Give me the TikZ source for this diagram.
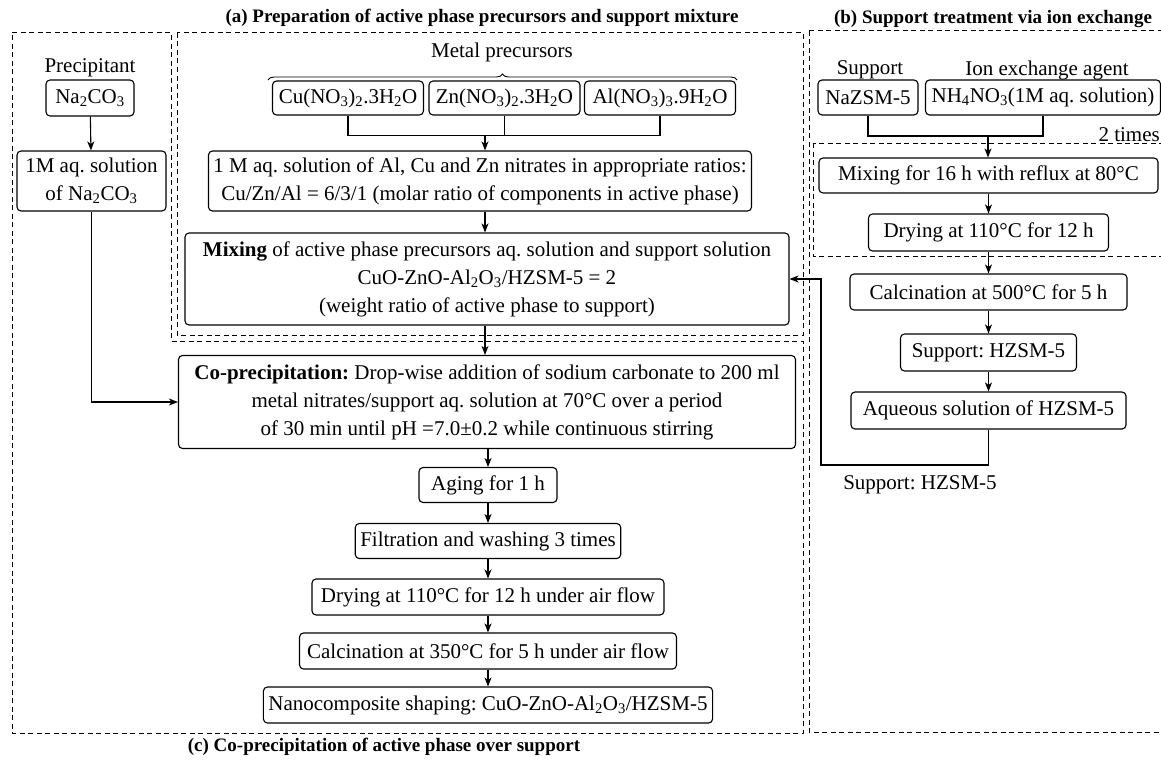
\documentclass[tikz,border=0pt]{standalone}
\usepackage{fontspec}
\setmainfont{Liberation Serif}
\usetikzlibrary{arrows.meta,decorations.pathreplacing}
\newcommand{\chsub}[1]{\textsubscript{#1}}
\frenchspacing
\begin{document}
\begin{tikzpicture}[x=1pt,y=-1pt,
  box/.style={draw, rounded corners=4pt, line width=1.1pt, inner xsep=5pt, inner ysep=2pt, align=center, font=\fontsize{21}{28}\selectfont\frenchspacing},
  lbl/.style={inner sep=0pt, font=\fontsize{21}{28}\selectfont\frenchspacing},
  ttl/.style={inner sep=0pt, font=\fontsize{19}{23}\selectfont\bfseries},
  arr/.style={-{Stealth[length=9pt,width=7pt,inset=2.5pt]}, line width=1.1pt},
  ln/.style={line width=1.1pt},
  frame/.style={dash pattern=on 5pt off 3.5pt, line width=1pt}]
\fill[white] (0,0) rectangle (1161,760);
\clip (0,0) rectangle (1161,760);

% frames
\draw[frame] (12,33) -- (171,33) -- (171,341) -- (803,341) -- (803,733) -- (12,733) -- cycle;
\draw[frame] (177,33) rectangle (803,335);
\draw[frame] (809,31) rectangle (1190,732);
\draw[frame] (813,143) rectangle (1190,256);

% titles
\node[ttl] (ta) at (482,18) {(a) Preparation of active phase precursors and support mixture};
\node[ttl] (tb) at (993,19) {(b) Support treatment via ion exchange};
\node[ttl] (tc) at (384,747) {(c) Co-precipitation of active phase over support};

% left column
\node[lbl] (prec) at (90,68) {Precipitant};
\node[box, minimum width=88pt, minimum height=36pt] (na) at (90,98) {Na\chsub{2}CO\chsub{3}};
\node[box, minimum width=149pt, minimum height=60pt] (solna) at (91.5,181) {1M aq. solution\\of Na\chsub{2}CO\chsub{3}};

% (a)
\node[lbl] (metal) at (502,52) {Metal precursors};
\node[box, minimum width=151pt, minimum height=34pt] (cu) at (348,98) {Cu(NO\chsub{3})\chsub{2}.3H\chsub{2}O};
\node[box, minimum width=151pt, minimum height=34pt] (zn) at (504.5,98) {Zn(NO\chsub{3})\chsub{2}.3H\chsub{2}O};
\node[box, minimum width=151pt, minimum height=34pt] (al) at (660,98) {Al(NO\chsub{3})\chsub{3}.9H\chsub{2}O};
\draw[line width=0.9pt, decorate, decoration={brace, amplitude=6pt}] (268,80) -- (737,80);
\coordinate (ja) at (485,135.5);
\node[box, minimum width=542pt, minimum height=60pt] (sol) at (480,181) {1 M aq. solution of Al, Cu and Zn nitrates in appropriate ratios:\\Cu/Zn/Al = 6/3/1 (molar ratio of components in active phase)};
\node[box, minimum width=604pt, minimum height=92pt] (mix) at (487,279) {\textbf{Mixing} of active phase precursors aq. solution and support solution\\CuO-ZnO-Al\chsub{2}O\chsub{3}/HZSM-5 = 2\\(weight ratio of active phase to support)};

% (c)
\coordinate (col) at (488,0);
\node[box, minimum width=617pt, minimum height=93pt] (cop) at (487,402) {\textbf{Co-precipitation:} Drop-wise addition of sodium carbonate to 200 ml\\metal nitrates/support aq. solution at 70°C over a period\\of 30 min until pH =7.0±0.2 while continuous stirring};
\node[box, minimum width=138pt, minimum height=35pt] (age) at (488,485) {Aging for 1 h};
\node[box, minimum width=264pt, minimum height=35pt] (fil) at (488,541) {Filtration and washing 3 times};
\node[box, minimum width=352pt, minimum height=36pt] (dry) at (488,597) {Drying at 110°C for 12 h under air flow};
\node[box, minimum width=377pt, minimum height=36pt] (cal) at (488,651) {Calcination at 350°C for 5 h under air flow};
\node[box, minimum width=441pt, minimum height=36pt] (nano) at (488,705) {Nanocomposite shaping: CuO-ZnO-Al\chsub{2}O\chsub{3}/HZSM-5};

% (b)
\node[lbl] (suplbl) at (870,70) {Support};
\node[lbl] (ionlbl) at (1047,70) {Ion exchange agent};
\node[box, minimum width=100pt, minimum height=35pt] (naz) at (868,97.5) {NaZSM-5};
\node[box, minimum width=235pt, minimum height=35pt] (nh) at (1043,97.5) {NH\chsub{4}NO\chsub{3}(1M aq. solution)};
\coordinate (jb) at (988,136);
\node[lbl, anchor=base east] (twice) at (1160,141) {2 times};
\node[box, minimum width=339pt, minimum height=35pt] (m16) at (988.5,175.5) {Mixing for 16 h with reflux at 80°C};
\node[box, minimum width=240pt, minimum height=37pt] (d12) at (988.5,232.5) {Drying at 110°C for 12 h};
\node[box, minimum width=277pt, minimum height=36pt] (c500) at (988.5,292) {Calcination at 500°C for 5 h};
\node[box, minimum width=176pt, minimum height=37pt] (hz) at (988.5,352.5) {Support: HZSM-5};
\node[box, minimum width=275pt, minimum height=37pt] (aq) at (988.5,410.5) {Aqueous solution of HZSM-5};
\coordinate (r1) at (821,465);
\node[lbl] (suplbl2) at (920,485) {Support: HZSM-5};

% connectors left
\draw[arr] (na) -- (solna);
\draw[arr] (solna.south) |- (cop.west);
% connectors (a)
\draw[ln] (cu.south) |- (ja) -| (al.south);
\draw[ln] (zn.south) -- (zn.south |- ja);
\draw[arr] (ja) -- (ja |- sol.north);
\draw[arr] (sol.south -| ja) -- (mix.north -| ja);
\draw[arr] (mix.south -| ja) -- (cop.north -| ja);
% connectors (c)
\draw[arr] (cop.south -| col) -- (age.north -| col);
\draw[arr] (age) -- (fil);
\draw[arr] (fil) -- (dry);
\draw[arr] (dry) -- (cal);
\draw[arr] (cal) -- (nano);
% connectors (b)
\draw[ln] (naz.south) |- (jb) -| (nh.south);
\draw[arr] (jb) -- (jb |- m16.north);
\draw[arr] (m16) -- (d12);
\draw[arr] (d12) -- (c500);
\draw[arr] (c500) -- (hz);
\draw[arr] (hz) -- (aq);
\draw[arr] (aq.south) |- (r1) |- (mix.east);
\end{tikzpicture}
\end{document}
